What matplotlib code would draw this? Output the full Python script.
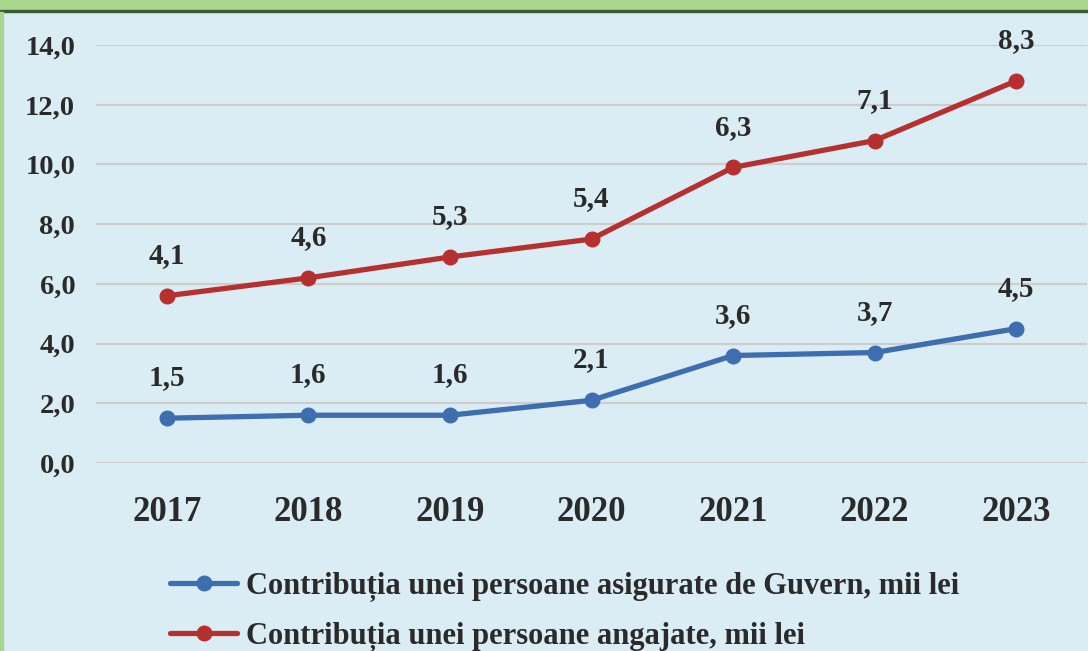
import numpy as np
import matplotlib.pyplot as plt
from matplotlib.patches import Rectangle

# Data
years = ['2017', '2018', '2019', '2020', '2021', '2022', '2023']
guvern = [1.5, 1.6, 1.6, 2.1, 3.6, 3.7, 4.5]
angajate = [4.1, 4.6, 5.3, 5.4, 6.3, 7.1, 8.3]
labels = ['Contribuția unei persoane asigurate de Guvern, mii lei',
          'Contribuția unei persoane angajate, mii lei']
yticks = [0, 2, 4, 6, 8, 10, 12, 14]

BLUE = '#3d6eb0'
RED = '#b5302f'
BG = '#dbedf4'

plt.rcParams['font.family'] = ['Liberation Serif', 'DejaVu Serif']
plt.rcParams['font.weight'] = 'bold'

fig = plt.figure(figsize=(10.88, 6.51), dpi=100, facecolor=BG)
ax = fig.add_axes([96 / 1088, 1 - 463 / 651, (1087 - 96) / 1088, (463 - 45) / 651])
ax.set_facecolor(BG)

x = np.arange(len(years))
stacked = np.array(guvern) + np.array(angajate)  # lines are stacked

ax.plot(x, guvern, color=BLUE, lw=3.8, marker='o', ms=10.5, label=labels[0],
        solid_capstyle='round', zorder=3)
ax.plot(x, stacked, color=RED, lw=3.8, marker='o', ms=10.5, label=labels[1],
        solid_capstyle='round', zorder=3)

for xi, v, y in zip(x, guvern, guvern):
    ax.annotate(f'{v:.1f}'.replace('.', ','), (xi, y), xytext=(0, 29),
                textcoords='offset points', ha='center', va='center',
                fontsize=21, color='#2a2a2a')
for xi, v, y in zip(x, angajate, stacked):
    ax.annotate(f'{v:.1f}'.replace('.', ','), (xi, y), xytext=(0, 29),
                textcoords='offset points', ha='center', va='center',
                fontsize=21, color='#2a2a2a')

ax.set_xlim(-0.5, len(years) - 0.5)
ax.set_ylim(0, 14)
ax.set_yticks(yticks)
ax.set_yticklabels([f'{t:.1f}'.replace('.', ',') for t in yticks], fontsize=20.5, color='#2a2a2a')
ax.set_xticks(x)
ax.set_xticklabels(years, fontsize=25, color='#2a2a2a')
ax.tick_params(axis='both', length=0)
ax.tick_params(axis='y', pad=15)
ax.tick_params(axis='x', pad=24)
ax.grid(axis='y', color='#cfcccc', lw=1.6)
ax.set_axisbelow(True)
for s in ax.spines.values():
    s.set_visible(False)

leg = fig.legend(loc='upper left', bbox_to_anchor=(170 / 1088, 1 - 572 / 651),
                 frameon=False, prop={'size': 22, 'weight': 'bold'},
                 handlelength=2.2, handletextpad=0.3,
                 labelspacing=0.64, borderpad=0, borderaxespad=0)
for t in leg.get_texts():
    t.set_color('#2a2a2a')

# green frame at top and left
fig.patches.append(Rectangle((0, 1 - 10 / 651), 1, 10 / 651, transform=fig.transFigure,
                             color='#a9d78e', zorder=0))
fig.patches.append(Rectangle((0, 1 - 12 / 651), 1, 2.5 / 651, transform=fig.transFigure,
                             color='#3e5a35', zorder=0))
fig.patches.append(Rectangle((0, 0), 2.5 / 1088, 1 - 12 / 651, transform=fig.transFigure,
                             color='#a9d78e', zorder=0))

fig.savefig('out.png', dpi=100, facecolor=BG)
